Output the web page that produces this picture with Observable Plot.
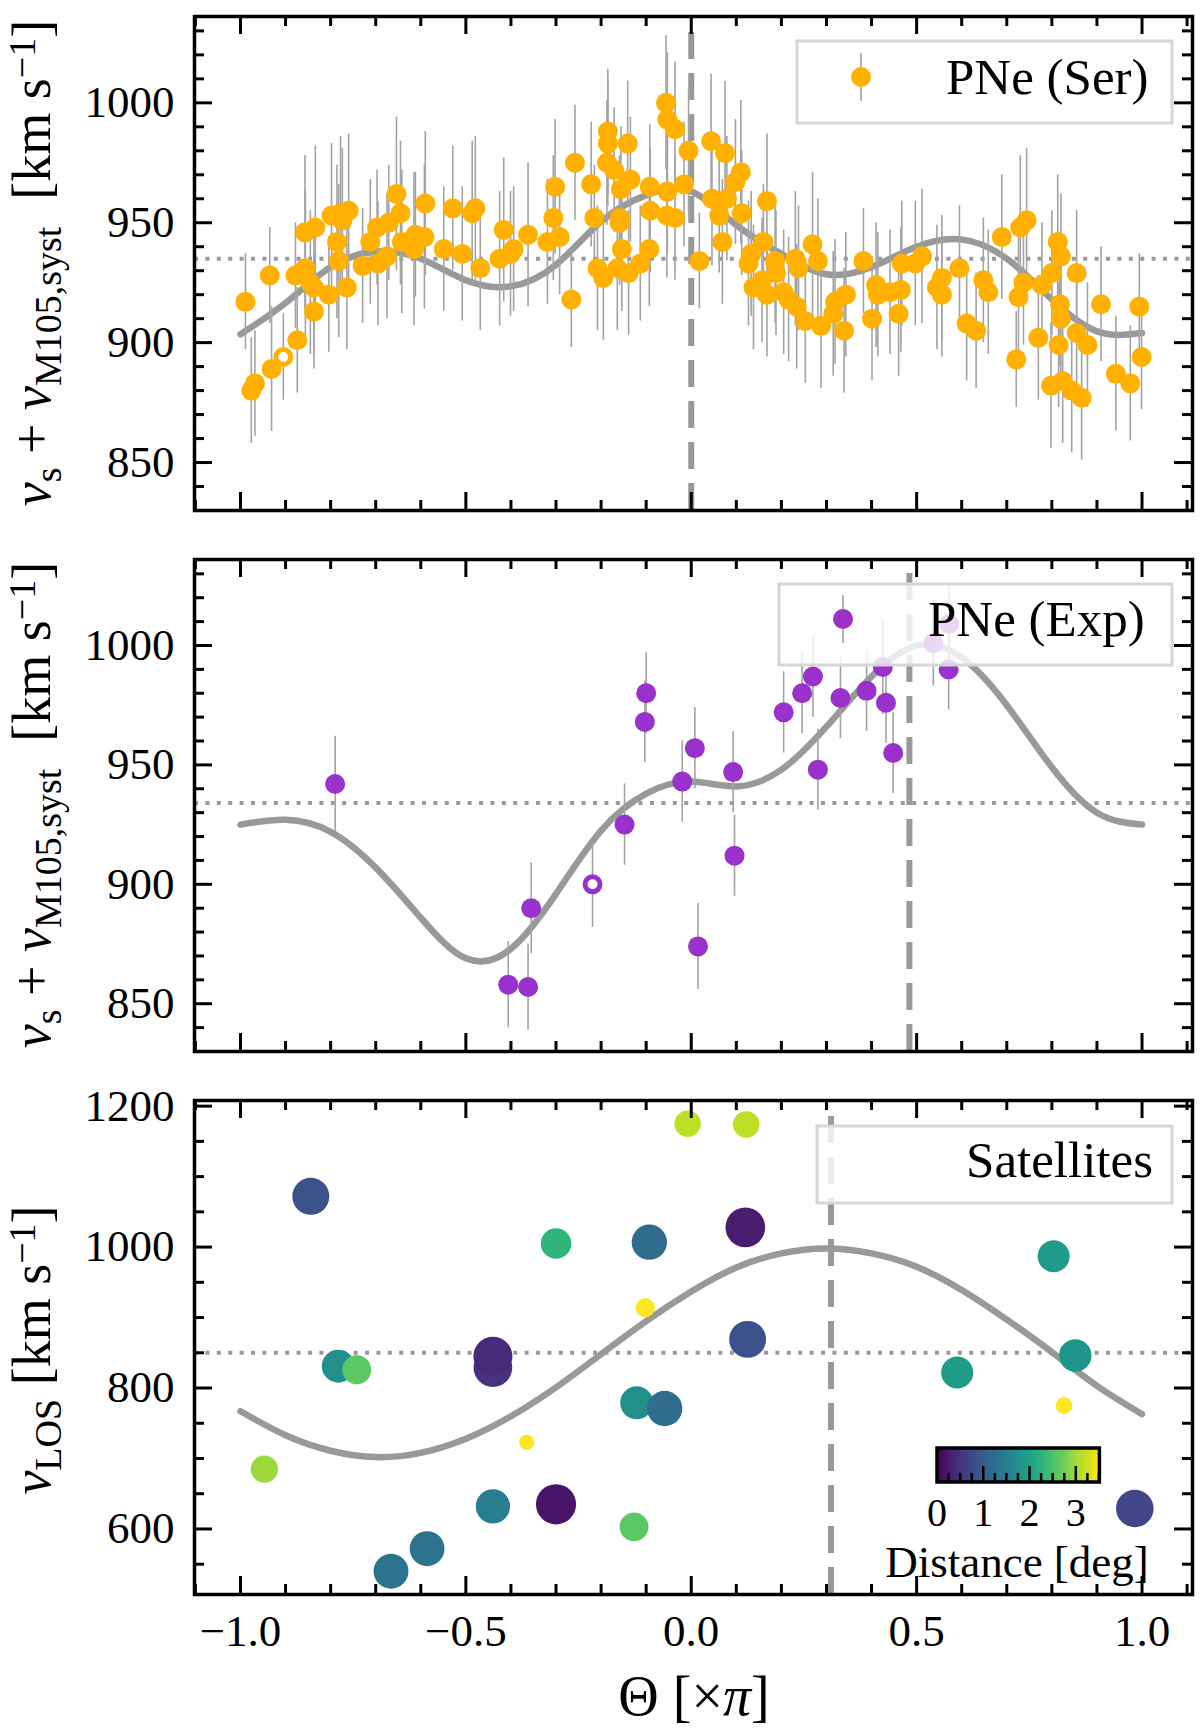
<!DOCTYPE html>
<html>
<head>
<meta charset="utf-8">
<script src="https://cdn.jsdelivr.net/npm/d3@7"></script>
<script src="https://cdn.jsdelivr.net/npm/@observablehq/plot@0.6"></script>
<style>
  html, body { margin: 0; padding: 0; background: #fff; }
  #chart { width: 1200px; }
  #chart svg { display: block; }
</style>
</head>
<body>
<div id="chart"></div>
<script>
// ================= DATA =================
// Panel 1: PNe (Ser)
const serTheta = [-0.989,-0.976,-0.968,-0.935,-0.931,-0.878,-0.874,-0.857,-0.856,-0.845,-0.837,-0.837,-0.834,-0.804,-0.798,-0.786,-0.782,-0.778,-0.774,-0.764,-0.760,-0.729,-0.712,-0.697,-0.695,-0.675,-0.671,-0.654,-0.645,-0.642,-0.615,-0.612,-0.592,-0.590,-0.549,-0.529,-0.508,-0.486,-0.479,-0.468,-0.425,-0.416,-0.401,-0.394,-0.362,-0.319,-0.306,-0.302,-0.292,-0.266,-0.258,-0.222,-0.215,-0.208,-0.195,-0.187,-0.185,-0.185,-0.171,-0.164,-0.159,-0.159,-0.156,-0.154,-0.141,-0.139,-0.135,-0.113,-0.093,-0.092,-0.091,-0.056,-0.054,-0.053,-0.053,-0.036,-0.036,-0.016,-0.006,0.018,0.044,0.046,0.062,0.069,0.075,0.079,0.098,0.110,0.112,0.127,0.133,0.138,0.157,0.160,0.168,0.168,0.186,0.188,0.205,0.216,0.231,0.234,0.238,0.253,0.269,0.281,0.288,0.315,0.319,0.339,0.343,0.382,0.401,0.410,0.414,0.441,0.460,0.465,0.467,0.497,0.512,0.545,0.556,0.556,0.595,0.611,0.632,0.648,0.659,0.689,0.721,0.726,0.730,0.737,0.744,0.770,0.778,0.798,0.800,0.813,0.815,0.818,0.820,0.820,0.824,0.844,0.855,0.855,0.866,0.879,0.909,0.942,0.974,0.994,0.999];
const serVel = [917,880,883,928,889,928,901,946,931,925,923,913,948,920,953,942,934,954,951,923,955,932,942,948,933,936,950,962,954,942,939,945,944,958,939,956,937,954,956,931,935,947,937,939,945,942,952,965,944,918,975,966,952,931,927,975,988,983,972,931,952,950,964,939,983,929,968,933,939,965,955,1000,953,993,963,989,952,966,980,934,984,960,953,942,979,960,967,971,954,933,937,923,926,942,959,920,934,929,921,918,935,915,931,909,941,934,907,912,917,905,920,934,910,924,920,921,912,922,933,933,936,923,927,920,931,908,905,926,921,944,893,919,948,925,951,902,924,882,929,942,899,916,936,910,884,880,929,904,877,899,916,887,883,915,894];
const serErr = [20,22,22,20,26,22,22,32,32,30,28,24,34,24,30,32,32,32,30,26,32,24,26,24,26,26,24,32,30,30,32,26,30,30,26,26,28,30,30,26,28,30,26,26,30,26,26,28,24,20,24,26,22,26,26,26,26,26,26,26,26,26,26,26,26,26,26,24,24,26,26,28,26,28,26,28,26,26,26,20,28,28,24,26,30,26,26,30,26,26,26,26,26,24,28,26,26,26,26,26,28,26,26,26,30,26,26,26,26,26,26,22,26,26,26,26,26,26,26,26,28,26,26,26,26,24,24,26,26,26,20,26,30,26,30,26,26,26,26,28,26,26,26,26,26,26,26,26,26,26,24,24,24,22,22];
const serOpenTheta = [-0.905];
const serOpenVel = [894];
const serOpenErr = [18];
const serModelTheta = [-1.0,-0.9,-0.8,-0.7,-0.6,-0.5,-0.4,-0.3,-0.2,-0.1,0.0,0.1,0.2,0.3,0.4,0.5,0.6,0.7,0.8,0.9,1.0];
const serModelVel = [903.5,916.5,931.5,938,935,926,923.5,932.5,950.5,961.5,963,949,937,928.5,931.5,940,943,935,918,904.7,904];
const serSystemic = 935;
const serPA = 0.0;

// Panel 2: PNe (Exp)
const expTheta = [-0.790,-0.406,-0.362,-0.355,-0.148,-0.103,-0.100,-0.020,0.008,0.015,0.093,0.096,0.205,0.246,0.270,0.281,0.331,0.389,0.425,0.432,0.448,0.537,0.571,0.572];
const expVel = [942,858,857,890,925,968,980,943,957,874,947,912,972,980,987,948,978,981,991,976,955,1001,990,1009];
const expErr = [20,18,18,19,17,17,17,17,17,18,17,17,17,17,17,17,17,17,20,17,17,18,17,17];
const expOpenTheta = [-0.219];
const expOpenVel = [900];
const expOpenErr = [18];
const expModelTheta = [-1.0,-0.9,-0.8,-0.7,-0.6,-0.5,-0.4,-0.3,-0.2,-0.1,0.0,0.1,0.2,0.3,0.4,0.5,0.6,0.7,0.8,0.9,1.0];
const expModelVel = [925,927,922,907,886,869,873,896,922.5,938,943,941,948,966,987,1000,995,975,949,930,925];
const expSystemic = 934;
const expPA = 0.484;

// Panel 3: Satellites
const satTheta = [-0.844,-0.300,-0.783,-0.742,-0.440,-0.440,-0.365,-0.947,-0.440,-0.300,-0.586,-0.666,-0.008,0.122,-0.093,0.120,-0.102,0.125,-0.121,-0.059,-0.127,0.804,0.590,0.852,0.827,0.984];
const satVel = [1072,1005,831,826,829,845,723,685,632,635,572,540,1175,1174,1007,1028,914,869,779,771,603,987,822,846,775,629];
const satDist = [0.88,2.28,1.75,2.63,0.50,0.42,5.6,2.98,1.47,0.18,1.33,1.33,3.16,3.16,1.23,0.28,4.75,0.88,1.75,1.23,2.63,1.93,1.93,1.85,5.26,0.75];
const satModelTheta = [-1.0,-0.9,-0.8,-0.7,-0.6,-0.5,-0.4,-0.3,-0.2,-0.1,0.0,0.1,0.2,0.3,0.4,0.5,0.6,0.7,0.8,0.9,1.0];
const satModelVel = [767,733,711,702,708,728,760,801,848,895,937,971,991,998,991,972,939,897,851,803,763];
const satSystemic = 850;
const satPA = 0.31;

// Axis ticks and labels
const xMajor = [-1.0, -0.5, 0.0, 0.5, 1.0];
const xTickLabels = ["\u22121.0", "\u22120.5", "0.0", "0.5", "1.0"];
const yMajorPNe = [850, 900, 950, 1000];
const yMajorSat = [600, 800, 1000, 1200];
const cbarTicks = [0, 1, 2, 3];

// ================= STYLE =================
const FONT = "'Liberation Serif','Times New Roman',serif";
const GRAY = "#999999";
const EBAR = "#a3a3a3";
const ORANGE = "#ffb000";
const PURPLE = "#9932cc";
const XDOM = [-1.102, 1.112];
const ML = 194, MR = 8, W = 1200;
const LABEL_X = 50, LABEL_FS = 54, SUB_FS = 38;

const xMinor = d3.range(-11, 12).map(i => i / 10).filter(v => !xMajor.some(m => Math.abs(m - v) < 1e-9));
const yMinorPNe = d3.range(830, 1036, 10).filter(v => v % 50 !== 0);
const yMinorSat = d3.range(550, 1201, 50).filter(v => v % 200 !== 0);

const rows = (t, v, e) => t.map((d, i) => ({t: d, v: v[i], e: e ? e[i] : 0}));

function tickMarks(fh, fw, yMajor, yMinor) {
  const out = [];
  const sw = 3;
  for (const [arr, len] of [[xMajor, 18], [xMinor, 10]]) {
    out.push(Plot.tickX(arr, {x: d => d, stroke: "black", strokeWidth: sw, insetTop: fh - len}));
    out.push(Plot.tickX(arr, {x: d => d, stroke: "black", strokeWidth: sw, insetBottom: fh - len}));
  }
  for (const [arr, len] of [[yMajor, 18], [yMinor, 10]]) {
    out.push(Plot.tickY(arr, {y: d => d, stroke: "black", strokeWidth: sw, insetRight: fw - len}));
    out.push(Plot.tickY(arr, {y: d => d, stroke: "black", strokeWidth: sw, insetLeft: fw - len}));
  }
  return out;
}

function panel({height, mt, mb, yDomain, yMajor, yMinor, marks, xLabels, extra = {}}) {
  const fw = W - ML - MR, fh = height - mt - mb;
  const all = [
    ...marks,
    ...tickMarks(fh, fw, yMajor, yMinor),
    Plot.text(yMajor, {y: d => d, text: d => String(d), frameAnchor: "left", textAnchor: "end", dx: -20, fontSize: 45, fill: "black"}),
    xLabels ? Plot.text(xMajor, {x: d => d, text: (d, i) => xTickLabels[i], frameAnchor: "bottom", lineAnchor: "top", dy: 20, fontSize: 45, fill: "black"}) : null,
    Plot.frame({stroke: "black", strokeWidth: 3.5})
  ].filter(Boolean);
  return Plot.plot({
    width: W, height,
    marginLeft: ML, marginRight: MR, marginTop: mt, marginBottom: mb,
    x: {domain: XDOM, axis: null},
    y: {domain: yDomain, axis: null},
    style: {fontFamily: FONT, background: "white", color: "black", overflow: "visible"},
    marks: all,
    ...extra
  });
}

function pneMarks(data, open, model, sys, pa, color, yDom) {
  return [
    Plot.ruleY([sys], {y: d => d, stroke: GRAY, strokeWidth: 4, strokeDasharray: "4,7.4"}),
    Plot.ruleX([pa], {x: d => d, y1: () => yDom[0], y2: () => yDom[1], stroke: GRAY, strokeWidth: 6, strokeDasharray: "27,14"}),
    Plot.line(model, {x: "t", y: "v", curve: "natural", stroke: GRAY, strokeWidth: 6.5}),
    Plot.ruleX(data.concat(open), {x: "t", y1: d => d.v - d.e, y2: d => d.v + d.e, stroke: EBAR, strokeWidth: 1.6}),
    Plot.dot(data, {x: "t", y: "v", r: 10, fill: color}),
    Plot.dot(open, {x: "t", y: "v", r: 7.5, fill: "white", stroke: color, strokeWidth: 5})
  ];
}

function yLabelPNe(svg, x, cy) {
  const t = d3.select(svg).append("text")
    .attr("transform", `translate(${x},${cy}) rotate(-90)`)
    .attr("text-anchor", "middle").attr("font-family", FONT).attr("font-size", LABEL_FS).attr("fill", "black");
  t.append("tspan").attr("font-style", "italic").text("v");
  t.append("tspan").attr("font-size", SUB_FS).attr("dy", 11).text("s");
  t.append("tspan").attr("dy", -11).text("\u00a0+\u00a0");
  t.append("tspan").attr("font-style", "italic").text("v");
  t.append("tspan").attr("font-size", SUB_FS).attr("dy", 11).text("M105,syst");
  t.append("tspan").attr("dy", -11).text("\u00a0\u00a0[km s");
  t.append("tspan").attr("font-size", SUB_FS).attr("dy", -15).text("\u22121");
  t.append("tspan").attr("dy", 15).text("]");
}

function legend(svg, {x, y, w, h}, marker, label, textX, baseline, anchor) {
  const g = d3.select(svg).append("g");
  g.append("rect").attr("x", x).attr("y", y).attr("width", w).attr("height", h)
    .attr("fill", "white").attr("fill-opacity", 0.8).attr("stroke", "#d6d6d6").attr("stroke-width", 3);
  if (marker) {
    g.append("line").attr("x1", marker.x).attr("x2", marker.x).attr("y1", marker.y - 24).attr("y2", marker.y + 24)
      .attr("stroke", EBAR).attr("stroke-width", 1.6);
    g.append("circle").attr("cx", marker.x).attr("cy", marker.y).attr("r", 10).attr("fill", marker.color);
  }
  g.append("text").attr("x", textX).attr("y", baseline).attr("text-anchor", anchor)
    .attr("font-family", FONT).attr("font-size", 51).attr("fill", "black").text(label);
}

const chart = document.getElementById("chart");
const PNE_Y = [830, 1036];

// ---------- Panel 1 ----------
const svg1 = panel({
  height: 535, mt: 16, mb: 25, yDomain: PNE_Y, yMajor: yMajorPNe, yMinor: yMinorPNe,
  marks: pneMarks(rows(serTheta, serVel, serErr), rows(serOpenTheta, serOpenVel, serOpenErr),
    rows(serModelTheta, serModelVel), serSystemic, serPA, ORANGE, PNE_Y)
});
legend(svg1, {x: 797, y: 41, w: 375, h: 82}, {x: 861, y: 77, color: ORANGE}, "PNe (Ser)", 946, 94, "start");
yLabelPNe(svg1, LABEL_X, 263);
chart.appendChild(svg1);

// ---------- Panel 2 ----------
const svg2 = panel({
  height: 540, mt: 24, mb: 24, yDomain: PNE_Y, yMajor: yMajorPNe, yMinor: yMinorPNe,
  marks: pneMarks(rows(expTheta, expVel, expErr), rows(expOpenTheta, expOpenVel, expOpenErr),
    rows(expModelTheta, expModelVel), expSystemic, expPA, PURPLE, PNE_Y)
});
legend(svg2, {x: 779, y: 49, w: 393, h: 81}, {x: 843, y: 84, color: PURPLE}, "PNe (Exp)", 928, 101, "start");
yLabelPNe(svg2, LABEL_X, 270);
chart.appendChild(svg2);

// ---------- Panel 3 ----------
const SAT_Y = [507, 1208];
const sats = satTheta.map((t, i) => ({t, v: satVel[i], d: satDist[i]}));
const svg3 = panel({
  height: 656, mt: 25, mb: 137, yDomain: SAT_Y, yMajor: yMajorSat, yMinor: yMinorSat, xLabels: true,
  marks: [
    Plot.ruleY([satSystemic], {y: d => d, stroke: GRAY, strokeWidth: 4, strokeDasharray: "4,7.4"}),
    Plot.ruleX([satPA], {x: d => d, y1: () => SAT_Y[0], y2: () => SAT_Y[1], stroke: GRAY, strokeWidth: 6, strokeDasharray: "27,14"}),
    Plot.line(rows(satModelTheta, satModelVel), {x: "t", y: "v", curve: "natural", stroke: GRAY, strokeWidth: 6.5}),
    Plot.dot(sats, {x: "t", y: "v", r: "d", fill: "d", sort: null})
  ],
  extra: {
    r: {type: "linear", domain: [0, 6], range: [20.5, 6.7]},
    color: {type: "linear", scheme: "viridis", domain: [0, 3.51], clamp: true}
  }
});
legend(svg3, {x: 817, y: 51, w: 355, h: 77}, null, "Satellites", 1153, 102, "end");

// v_LOS label
{
  const t = d3.select(svg3).append("text")
    .attr("transform", `translate(${LABEL_X},275) rotate(-90)`)
    .attr("text-anchor", "middle").attr("font-family", FONT).attr("font-size", LABEL_FS).attr("fill", "black");
  t.append("tspan").attr("font-style", "italic").text("v");
  t.append("tspan").attr("font-size", SUB_FS).attr("dy", 11).text("LOS");
  t.append("tspan").attr("dy", -11).text("\u00a0[km s");
  t.append("tspan").attr("font-size", SUB_FS).attr("dy", -15).text("\u22121");
  t.append("tspan").attr("dy", 15).text("]");
}
// Theta label
{
  const t = d3.select(svg3).append("text").attr("x", 694).attr("y", 640)
    .attr("text-anchor", "middle").attr("font-family", FONT).attr("font-size", 56).attr("fill", "black");
  t.append("tspan").text("\u0398 [\u00d7");
  t.append("tspan").attr("font-style", "italic").text("\u03c0");
  t.append("tspan").text("]");
}
// Colorbar
{
  const s = d3.select(svg3);
  const cx0 = 937, cw = 162.4, cy0 = 373, ch = 34, cmax = 3.51;
  const defs = s.append("defs");
  const grad = defs.append("linearGradient").attr("id", "vir").attr("x1", "0%").attr("x2", "100%");
  d3.range(0, 1.0001, 0.05).forEach(p => grad.append("stop").attr("offset", `${p * 100}%`).attr("stop-color", d3.interpolateViridis(p)));
  s.append("rect").attr("x", cx0).attr("y", cy0).attr("width", cw).attr("height", ch).attr("fill", "url(#vir)");
  const px = v => cx0 + v / cmax * cw;
  d3.range(0.25, cmax, 0.25).forEach(v => {
    const major = Math.abs(v - Math.round(v)) < 1e-9;
    s.append("line").attr("x1", px(v)).attr("x2", px(v)).attr("y1", cy0 + ch).attr("y2", cy0 + ch - (major ? 16 : 9))
      .attr("stroke", "black").attr("stroke-width", 2.5);
  });
  s.append("rect").attr("x", cx0).attr("y", cy0).attr("width", cw).attr("height", ch)
    .attr("fill", "none").attr("stroke", "black").attr("stroke-width", 3.5);
  cbarTicks.forEach(v => s.append("text").attr("x", px(v)).attr("y", 451).attr("text-anchor", "middle")
    .attr("font-family", FONT).attr("font-size", 40).attr("fill", "black").text(String(v)));
  s.append("text").attr("x", 1017).attr("y", 502).attr("text-anchor", "middle")
    .attr("font-family", FONT).attr("font-size", 45).attr("fill", "black").text("Distance [deg]");
}
chart.appendChild(svg3);
</script>
</body>
</html>
